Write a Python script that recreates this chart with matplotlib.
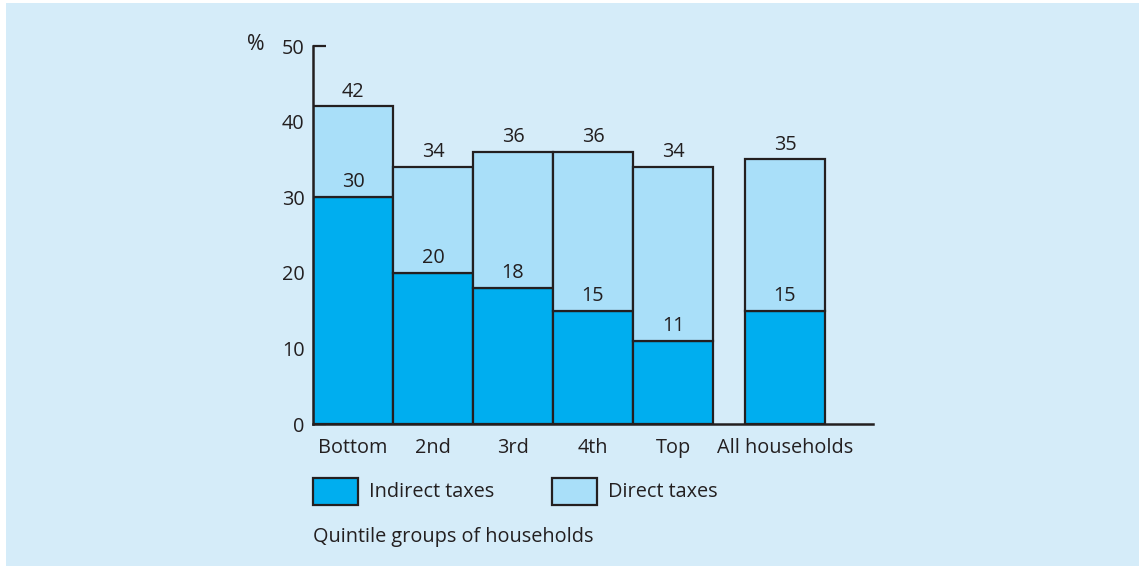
import matplotlib.pyplot as plt
from matplotlib.patches import Rectangle

plt.rcParams['font.family'] = ['Open Sans', 'DejaVu Sans']

categories = ["Bottom", "2nd", "3rd", "4th", "Top", "All households"]
indirect = [30, 20, 18, 15, 11, 15]
total = [42, 34, 36, 36, 34, 35]
direct = [t - i for t, i in zip(total, indirect)]
yticks = [0, 10, 20, 30, 40, 50]

bg = "#d5ecf9"
c_indirect = "#00aeef"
c_direct = "#a9dff9"
ink = "#231f20"
fs = 14.3

fig = plt.figure(figsize=(11.39, 5.68), dpi=100)
fig.patch.set_facecolor("white")
fig.patches.append(Rectangle((6 / 1139, 2 / 568), 1 - 6 / 1139, 1 - 5 / 568,
                             transform=fig.transFigure, facecolor=bg,
                             edgecolor="none", zorder=-10))

ax = fig.add_axes([313 / 1139, (568 - 424) / 568, 560 / 1139, 378 / 568])
ax.set_facecolor("none")

xpos = [0, 1, 2, 3, 4, 5.4]
ax.bar(xpos, indirect, width=1.0, color=c_indirect, edgecolor=ink, linewidth=1.6, zorder=2)
ax.bar(xpos, direct, bottom=indirect, width=1.0, color=c_direct, edgecolor=ink,
       linewidth=1.6, zorder=2)

for x, i, t in zip(xpos, indirect, total):
    ax.annotate(str(t), (x, t), xytext=(0, 3.5), textcoords="offset points",
                ha="center", va="bottom", fontsize=fs, color=ink)
    ax.annotate(str(i), (x, i), xytext=(0, 3.5), textcoords="offset points",
                ha="center", va="bottom", fontsize=fs, color=ink)

ax.set_xlim(-0.5, 6.5)
ax.set_ylim(0, 50)
ax.set_yticks(yticks)
ax.set_yticklabels([str(v) for v in yticks], fontsize=fs, color=ink)
ax.set_xticks(xpos)
ax.set_xticklabels(categories, fontsize=fs, color=ink)
ax.tick_params(axis="x", length=0, pad=10)
ax.tick_params(axis="y", direction="in", length=9, width=1.6, color=ink, pad=6)
for s in ("top", "right"):
    ax.spines[s].set_visible(False)
for s in ("left", "bottom"):
    ax.spines[s].set_linewidth(1.8)
    ax.spines[s].set_color(ink)
    ax.spines[s].set_zorder(3)

fig.text(256 / 1139, 1 - 44 / 568, "%", fontsize=fs + 1, color=ink, ha="center", va="center")

# legend
def key(x0, color, label):
    fig.patches.append(Rectangle((x0 / 1139, 1 - 505 / 568), 45 / 1139, 27 / 568,
                                 transform=fig.transFigure, facecolor=color,
                                 edgecolor=ink, linewidth=1.6))
    fig.text((x0 + 56) / 1139, 1 - 492 / 568, label, fontsize=fs, color=ink,
             ha="left", va="center")

key(313, c_indirect, "Indirect taxes")
key(552, c_direct, "Direct taxes")

fig.text(313 / 1139, 1 - 537 / 568, "Quintile groups of households", fontsize=fs,
         color=ink, ha="left", va="center")

fig.savefig("out.png", dpi=100, facecolor=fig.get_facecolor())
